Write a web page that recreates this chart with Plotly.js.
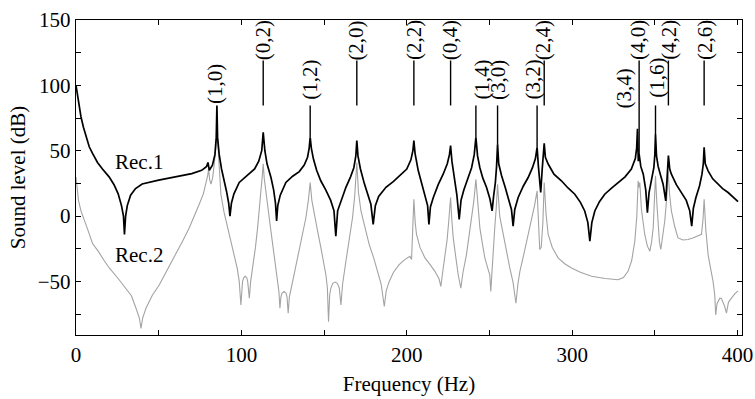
<!DOCTYPE html>
<html>
<head>
<meta charset="utf-8">
<script src="https://cdn.plot.ly/plotly-3.0.1.min.js"></script>
<style>html,body{margin:0;padding:0;background:#fff;}#chart{width:755px;height:399px;}</style>
</head>
<body>
<div id="chart"></div>
<script>
// ---- Rec.1 (black) frequency response ----
var rec1Freq = [0,1.5,3,4.5,6,8,10,13,16,20,23,25.5,27.5,28.7,29.3,30,31,33,36,40,50,60,70,76,79,79.8,80.6,82.5,84,84.8,85.2,85.6,86.6,88,89.7,91,92.3,93.1,94,95.5,98.7,102,105,108,110.5,112.3,113.2,114.2,115.5,117.9,119.5,120.6,121.3,122,123.5,126.9,131,135,138,140,141,141.6,142.3,143.5,145.5,148,151,154,156,157.1,158.2,160,163.2,166,168,169.2,169.8,170.5,172,174.3,176.5,178.3,179.7,181,183,187.4,192,196,200,202.5,203.7,204.3,205,206.9,209,211,212.6,213.4,214.3,216,219,222,224.5,225.8,226.5,227.3,228.5,230.3,231.7,232.8,234.5,237,239.2,240.8,241.8,242.8,244.2,246,248.2,250.3,251.6,252.5,253.6,254.3,254.9,255.6,257.3,259.5,261.5,263.3,264.3,265.3,267.3,270.5,273.4,276,277.8,278.8,279.6,281,281.9,282.6,283.1,283.8,285.5,289,293.5,297.5,301.6,305,307.6,309.5,310.7,311.9,313.7,316.5,319.7,324,327.8,332,335.8,338.2,339,339.5,340,340.5,341.5,343,344.5,345.5,346.5,348,349.4,350,350.4,351,352,353.5,355,356.6,357.4,358.2,359,360,363,366.1,369,371.1,372.3,373.3,374.8,377,378.5,379.3,379.8,380.5,382.2,385,388.2,391,394.3,397,400.3];
var rec1Level = [100,88,76,68,61,53,48,41,36,30,24,17,8,0,-14,0,8,16,21,24.5,27.5,30,32.5,35,38,41,35,39,47,60,84.6,60,47,36,27,19,10,0,10,17,25.7,29.5,32.5,36,42,50,64,50,40,29.5,20,10,-3.8,8,16,25.7,30.5,34,39,45,52,60.3,52,44,35,27,20,12,4,-15.4,4,11,22,30,37,46,57.7,46,36,25,17,9,-6.4,8,15,22,26.5,31,36,43,50,57.7,48,35,25,17,8,-6.4,7,14,24,32,40,47,53.9,42,31,16,-2.6,12,20,29,37,47,60.3,46,37,29,22,13,3.9,15,26,38,55,40,31,22,14,5,-7.7,5,14,23,29.5,37,44,52.6,38,18,36,45,55.7,45,39.8,32,27,21.5,16.7,10.5,3.9,-5,-19.2,-5,3.9,11,16.7,21.5,25.7,30,36,44,52,66.7,42,47.4,38,32,20,2.6,18,27,37,47,62.8,46,38,31,24.4,11.6,28,46.2,36,32,24,18,12,4,-7.7,6,14,23,32,40,52.6,40,34.6,28.5,24.4,21,18,15,11.1];

// ---- Rec.2 (grey) frequency response ----
var rec2Freq = [0,1.5,3,4.5,7,10,13.5,17,20.1,25,30.2,33.5,36.3,38.3,39.3,40.3,42.3,46,50.4,55,60.4,64.5,68.5,72,74.5,77,78.6,79.6,80.2,80.8,81.6,82.6,83.6,84.5,85.2,85.9,86.7,87.6,89.5,91.7,93.7,95.7,97.5,98.7,99.7,100.7,101.5,102.3,103.2,103.8,104.8,105.6,106.8,108.5,109.8,111,111.8,112.6,113.2,113.8,114.6,115.8,117.3,118.9,120.4,121.9,122.7,123.3,123.9,124.6,125.9,127,127.6,128.3,129,131,133,135,137,139,140.5,141.6,142.6,144,146,148.1,149.8,151.1,152,152.7,153.4,154.1,155.3,156.7,158,159.2,160.2,161.2,163.2,165.2,167.2,168.5,169.8,170.8,172.3,174.8,177.3,180,182.3,184.5,186.4,187.6,189.4,192,195.4,198.8,201.9,202.9,203.6,204.3,205.1,205.9,208,211,214,217,219.5,220.6,221.7,223,224.4,225.4,226.5,227.3,228.1,229.6,231.1,232.7,234,236.1,237.7,239.1,240.6,241.8,242.9,244.2,245.7,247.2,249,250.2,250.8,251.6,252.5,253.2,254.1,254.9,256.2,258.3,260.3,262.3,264.3,266,267.2,268.4,271,273.4,275.5,277.4,278.8,279.5,280.4,281.3,282.3,283.1,284.2,285.5,288,291.5,295.5,299.6,305,311.7,320,327.8,331,333.8,336,337.9,339.1,339.9,340.4,340.9,341.9,343.9,345.5,347,348,349,349.8,350.4,351.2,352,352.8,353.6,354.8,356,357.2,358,358.9,360,362,364,367,370.1,373,376.1,378.2,379.1,379.8,380.8,382.2,383.7,385.2,386.2,386.8,387.6,389.3,390.2,390.9,392.2,393.3,394.5,396.3,398.3,400.3];
var rec2Level = [29.8,12,4,-1,-10,-21,-27,-34,-39.7,-47,-55.1,-61,-70.5,-78,-85.9,-78,-70.5,-61,-52.6,-42,-29.5,-19,-9,1,9,17,24.4,31,35.9,28,24.4,29,39.8,52,68,50,32,16.7,3,-9,-19,-29.5,-40,-50,-68,-50,-47,-46.1,-47,-50,-62.8,-50,-39.7,-24,-9,5,19.2,30,40,29,19,9,-6,-21.8,-36,-50,-58,-70.5,-62,-59,-57.7,-59,-62,-74.3,-62,-50,-38,-26.9,-14,-1.3,12,25.7,12,1.3,-11,-24.4,-35,-44.9,-55,-80.8,-60,-55.1,-51.5,-50.5,-51.5,-55,-68,-52,-34.6,-18,-1.3,15,41,18,3.9,-9,-21.8,-32,-42.3,-52,-69.2,-57,-50,-43,-37.2,-33.3,-30.8,-33.3,-10,12.8,-5,-14.1,-24,-32,-37,-42.3,-48,-53.8,-43,-32,-18,-3.8,14.1,-4,-16.7,-31,-44.9,-55.1,-43,-29.5,-16,-1.3,12,28.2,8,-9,-21,-32,-40,-44.9,-57.7,-39.7,-22,-9,6,24.4,0,-14.1,-27,-39.7,-51,-66.7,-52,-42.3,-28,-14.1,-3,9,19.2,-5,-25.6,-24,-5,25.7,2,-14.1,-24,-32,-36.5,-39.7,-43,-46.1,-47.8,-48.7,-47,-42.3,-34,-19.2,0,26.9,22,25.7,5,-14.1,-23,-26.9,-20,-9,10,30.8,10,-9,-20,-25.6,-16,-3.8,14,34.6,17,3.9,-8,-16.7,-18.3,-17.9,-16.8,-15.4,-14,-3,12.8,-10,-29.5,-40,-50,-60,-75.6,-67,-62.8,-63,-65,-69,-74.3,-66,-62.8,-59.5,-57.2];

// ---- Mode labels ----
var modeLabels = ['(1,0)','(0,2)','(1,2)','(2,0)','(2,2)','(0,4)','(1,4)','(3,0)','(3,2)','(2,4)','(3,4)','(4,0)','(1,6)','(4,2)','(2,6)'];
var modeFreq   = [85.2,113.2,141.6,169.8,204.3,226.5,241.8,254.9,278.8,283.1,339.5,340.5,350.4,358.2,379.8];
var labelFreq  = [83.6,113.2,141.0,169.6,204.3,226.2,245.5,254.8,276.2,282.4,331.2,339.8,351.3,358.4,380.2];
var labelLevel = [101.3,134.6,104.4,134.6,134.6,134.6,104.4,104.4,104.4,134.6,97.4,134.6,105.9,134.6,134.6];
var stemTop    = [null,119,84.6,119,119,119,84.6,84.6,84.6,119,null,119,84.6,119,119];
var stemBottom = [null,84.6,60.3,84.6,84.6,84.6,60.3,55,52.6,84.6,null,47.4,62.8,84.6,84.6];

// ---- Curve labels ----
var curveNames = ['Rec.1','Rec.2'];
var curveLabelFreq = [38,38];
var curveLabelLevel = [41,-30];

var FONT = '"Liberation Serif", "Times New Roman", Times, serif';

var stemX = [], stemY = [];
for (var i = 0; i < modeFreq.length; i++) {
  if (stemTop[i] === null) continue;
  stemX.push(modeFreq[i], modeFreq[i], null);
  stemY.push(stemTop[i], stemBottom[i], null);
}

var traces = [
  {x: rec2Freq, y: rec2Level, type: 'scatter', mode: 'lines', name: 'Rec.2',
   line: {color: '#a3a3a3', width: 1.1}, hoverinfo: 'skip'},
  {x: rec1Freq, y: rec1Level, type: 'scatter', mode: 'lines', name: 'Rec.1',
   line: {color: '#000000', width: 1.7}, hoverinfo: 'skip'},
  {x: stemX, y: stemY, type: 'scatter', mode: 'lines', name: 'stems',
   line: {color: '#000000', width: 1.4}, hoverinfo: 'skip', connectgaps: false}
];

var annotations = [];
for (var j = 0; j < modeLabels.length; j++) {
  annotations.push({x: labelFreq[j], y: labelLevel[j], xref: 'x', yref: 'y',
    text: modeLabels[j], textangle: -90, showarrow: false,
    xanchor: 'center', yanchor: 'middle',
    font: {family: FONT, size: 21, color: '#000'}});
}
for (var k = 0; k < curveNames.length; k++) {
  annotations.push({x: curveLabelFreq[k], y: curveLabelLevel[k], xref: 'x', yref: 'y',
    text: curveNames[k], showarrow: false, xanchor: 'center', yanchor: 'middle',
    font: {family: FONT, size: 21, color: '#000'}});
}

var xTicks = [0,50,100,150,200,250,300,350,400];
var xTickText = ['0','','100','','200','','300','','400'];
var yTicks = [-75,-50,-25,0,25,50,75,100,125,150];
var yTickText = ['','\u221250','','0','','50','','100','','150'];

var axisCommon = {
  ticks: 'inside', ticklen: 5, tickwidth: 1, tickcolor: '#000',
  showline: true, linecolor: '#000', linewidth: 1.3, mirror: 'ticks',
  showgrid: false, zeroline: false,
  tickfont: {family: FONT, size: 21, color: '#000'}
};

var layout = {
  width: 755, height: 399,
  margin: {l: 76, r: 13, t: 20, b: 64},
  paper_bgcolor: '#fff', plot_bgcolor: '#fff',
  showlegend: false,
  font: {family: FONT, color: '#000'},
  xaxis: Object.assign({}, axisCommon, {
    range: [0, 402.7], tickmode: 'array', tickvals: xTicks, ticktext: xTickText,
    title: {text: 'Frequency (Hz)', font: {family: FONT, size: 21, color: '#000'}, standoff: 10}
  }),
  yaxis: Object.assign({}, axisCommon, {
    range: [-91, 150], tickmode: 'array', tickvals: yTicks, ticktext: yTickText,
    title: {text: 'Sound level (dB)', font: {family: FONT, size: 21, color: '#000'}, standoff: 6}
  }),
  annotations: annotations
};

Plotly.newPlot('chart', traces, layout, {displayModeBar: false, staticPlot: true});
</script>
</body>
</html>
